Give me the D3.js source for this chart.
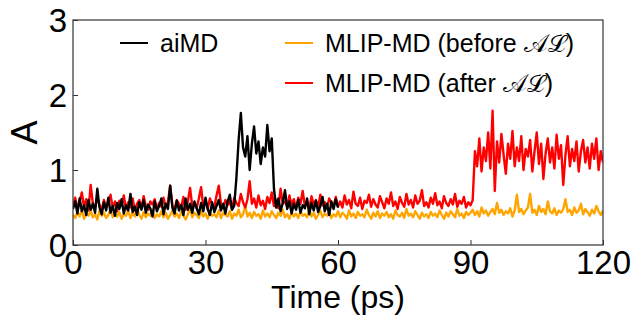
<!DOCTYPE html>
<html>
<head>
<meta charset="utf-8">
<script src="https://cdn.jsdelivr.net/npm/d3@7"></script>
<style>
  html, body { margin: 0; padding: 0; background: #fff; }
  svg { display: block; font-family: "Liberation Sans", Arial, Helvetica, sans-serif; }
</style>
</head>
<body>
<svg id="chart" width="634" height="320"></svg>
<script>
// ---- data ----
const timeStep = 0.5; // ps between samples
const xTicks = [0, 30, 60, 90, 120];
const yTicks = [0, 1, 2, 3];
const seriesNames = ["aiMD", "MLIP-MD (before 𝒜ℒ)", "MLIP-MD (after 𝒜ℒ)"];
const seriesColors = ["#000000", "#FFA500", "#FF0000"];

// aiMD, 0–60 ps
const aiMD = [
  0.48, 0.58, 0.42, 0.62, 0.45, 0.53, 0.40, 0.60, 0.47, 0.55, 0.43, 0.75, 0.50, 0.41, 0.57, 0.46, 0.63, 0.43, 0.52, 0.39, 0.56,
  0.48, 0.61, 0.42, 0.53, 0.46, 0.68, 0.44, 0.51, 0.40, 0.57, 0.47, 0.60, 0.43, 0.54, 0.49, 0.38, 0.58, 0.45, 0.52, 0.62,
  0.41, 0.55, 0.48, 0.79, 0.50, 0.42, 0.59, 0.46, 0.53, 0.40, 0.62, 0.47, 0.55, 0.43, 0.58, 0.49, 0.41, 0.56, 0.45, 0.63,
  0.48, 0.40, 0.57, 0.44, 0.52, 0.60, 0.46, 0.55, 0.42, 0.58, 0.67, 0.47, 0.52, 0.90, 1.40, 1.76, 1.30, 1.18, 1.45, 1.00,
  1.35, 1.58, 1.22, 1.38, 1.08, 1.30, 1.18, 1.60, 1.25, 1.42, 0.75, 0.50, 0.62, 0.45, 0.56, 0.73, 0.48, 0.58, 0.42, 0.55,
  0.47, 0.60, 0.43, 0.53, 0.49, 0.62, 0.41, 0.56, 0.46, 0.59, 0.44, 0.52, 0.64, 0.45, 0.55, 0.40, 0.58, 0.48, 0.61, 0.50
];

// MLIP-MD before active learning, 0–120 ps
const mlipBefore = [
  0.40, 0.36, 0.44, 0.38, 0.47, 0.35, 0.42, 0.39, 0.45, 0.37, 0.41, 0.34, 0.46, 0.39, 0.43, 0.36, 0.40, 0.48, 0.37, 0.42, 0.38,
  0.44, 0.35, 0.41, 0.39, 0.46, 0.36, 0.43, 0.38, 0.50, 0.40, 0.35, 0.44, 0.37, 0.42, 0.39, 0.47, 0.36, 0.41, 0.38, 0.45,
  0.37, 0.43, 0.35, 0.40, 0.46, 0.38, 0.42, 0.36, 0.44, 0.39, 0.34, 0.41, 0.48, 0.37, 0.43, 0.40, 0.36, 0.45, 0.38, 0.42,
  0.35, 0.44, 0.39, 0.41, 0.37, 0.46, 0.36, 0.43, 0.40, 0.38, 0.45, 0.35, 0.42, 0.39, 0.47, 0.37, 0.41, 0.52, 0.38, 0.43,
  0.36, 0.44, 0.39, 0.41, 0.35, 0.46, 0.38, 0.42, 0.37, 0.45, 0.40, 0.36, 0.43, 0.39, 0.47, 0.37, 0.41, 0.35, 0.44, 0.38,
  0.42, 0.36, 0.45, 0.39, 0.41, 0.37, 0.48, 0.38, 0.43, 0.35, 0.40, 0.46, 0.37, 0.42, 0.39, 0.44, 0.36, 0.41, 0.38, 0.45,
  0.37, 0.43, 0.40, 0.35, 0.46, 0.38, 0.42, 0.36, 0.44, 0.39, 0.41, 0.37, 0.47, 0.40, 0.35, 0.43, 0.38, 0.45, 0.36, 0.42,
  0.39, 0.44, 0.37, 0.41, 0.35, 0.46, 0.40, 0.38, 0.43, 0.36, 0.48, 0.39, 0.42, 0.37, 0.45, 0.40, 0.35, 0.43, 0.38, 0.41,
  0.36, 0.44, 0.39, 0.42, 0.37, 0.46, 0.40, 0.35, 0.43, 0.38, 0.45, 0.41, 0.37, 0.48, 0.39, 0.42, 0.36, 0.44, 0.40, 0.43,
  0.47, 0.40, 0.45, 0.38, 0.50, 0.42, 0.46, 0.39, 0.44, 0.48, 0.41, 0.56, 0.43, 0.47, 0.40, 0.45, 0.42, 0.49, 0.38, 0.46,
  0.67, 0.44, 0.48, 0.41, 0.46, 0.50, 0.68, 0.43, 0.47, 0.40, 0.52, 0.44, 0.48, 0.41, 0.58, 0.45, 0.42, 0.49, 0.40, 0.46,
  0.43, 0.48, 0.61, 0.44, 0.47, 0.40, 0.50, 0.43, 0.46, 0.55, 0.41, 0.48, 0.44, 0.39, 0.47, 0.42, 0.52, 0.45, 0.40, 0.46
];

// MLIP-MD after active learning, 0–120 ps
const mlipAfter = [
  0.52, 0.63, 0.48, 0.58, 0.70, 0.50, 0.61, 0.46, 0.80, 0.55, 0.49, 0.64, 0.53, 0.47, 0.60, 0.51, 0.56, 0.67, 0.49, 0.58, 0.45,
  0.59, 0.52, 0.66, 0.48, 0.57, 0.50, 0.62, 0.46, 0.55, 0.60, 0.49, 0.65, 0.52, 0.47, 0.58, 0.54, 0.61, 0.48, 0.56, 0.51,
  0.63, 0.50, 0.57, 0.79, 0.53, 0.48, 0.60, 0.55, 0.50, 0.64, 0.47, 0.58, 0.76, 0.52, 0.56, 0.49, 0.62, 0.77, 0.51, 0.57,
  0.48, 0.62, 0.54, 0.50, 0.66, 0.79, 0.55, 0.49, 0.60, 0.53, 0.58, 0.47, 0.63, 0.56, 0.52, 0.68, 0.57, 0.50, 0.61, 0.85,
  0.55, 0.62, 0.50, 0.66, 0.53, 0.59, 0.48, 0.64, 0.56, 0.70, 0.52, 0.60, 0.49, 0.75, 0.55, 0.58, 0.51, 0.66, 0.53, 0.61,
  0.49, 0.63, 0.55, 0.72, 0.52, 0.58, 0.48, 0.65, 0.54, 0.60, 0.50, 0.67, 0.53, 0.57, 0.49, 0.62, 0.56, 0.52, 0.64, 0.51,
  0.58, 0.50, 0.66, 0.54, 0.60, 0.49, 0.71, 0.55, 0.52, 0.63, 0.48, 0.59, 0.56, 0.67, 0.51, 0.61, 0.54, 0.50, 0.65, 0.57,
  0.49, 0.62, 0.55, 0.70, 0.52, 0.58, 0.48, 0.64, 0.56, 0.51, 0.68, 0.54, 0.60, 0.50, 0.66, 0.55, 0.59, 0.73, 0.52, 0.57,
  0.50, 0.63, 0.55, 0.69, 0.53, 0.58, 0.49, 0.65, 0.56, 0.52, 0.61, 0.54, 0.68, 0.51, 0.59, 0.55, 0.64, 0.50, 0.57, 0.53,
  0.60, 1.25, 1.05, 1.42, 0.98, 1.30, 1.12, 1.50, 1.02, 1.79, 0.72, 1.38, 1.10, 1.48, 1.20, 0.95, 1.35, 1.15, 1.52, 1.05,
  1.30, 1.12, 1.45, 1.00, 1.28, 1.18, 1.40, 0.98, 1.25, 1.50, 1.08, 1.35, 0.88, 1.22, 1.42, 1.10, 1.30, 1.02, 1.47, 1.15,
  1.33, 0.80, 1.20, 1.45, 1.05, 1.28, 1.12, 1.38, 0.98, 1.25, 1.40, 1.10, 1.30, 1.02, 1.35, 1.15, 1.42, 1.00, 1.25, 1.10
];

// ---- layout ----
const margin = { left: 73, right: 31, top: 20, bottom: 75 };
const W = 634, H = 320;
const iw = W - margin.left - margin.right;
const ih = H - margin.top - margin.bottom;

const svg = d3.select("#chart");
const x = d3.scaleLinear().domain([0, 120]).range([margin.left, margin.left + iw]);
const y = d3.scaleLinear().domain([0, 3]).range([margin.top + ih, margin.top]);

svg.append("defs").append("clipPath").attr("id", "plotClip")
  .append("rect").attr("x", margin.left).attr("y", margin.top).attr("width", iw).attr("height", ih);

const line = d3.line().x((d, i) => x(i * timeStep)).y(d => y(d));

const plotOrder = [
  { data: mlipBefore, color: seriesColors[1] },
  { data: mlipAfter, color: seriesColors[2] },
  { data: aiMD, color: seriesColors[0] }
];
const g = svg.append("g").attr("clip-path", "url(#plotClip)");
plotOrder.forEach(s => {
  g.append("path").datum(s.data)
    .attr("d", line)
    .attr("fill", "none")
    .attr("stroke", s.color)
    .attr("stroke-width", 2.4)
    .attr("stroke-linejoin", "round");
});

// frame
svg.append("rect")
  .attr("x", margin.left).attr("y", margin.top).attr("width", iw).attr("height", ih)
  .attr("fill", "none").attr("stroke", "#333").attr("stroke-width", 1.2);

// axes with inward ticks
const xAxis = d3.axisBottom(x).tickValues(xTicks).tickFormat(d3.format("d"))
  .tickSizeInner(-5).tickSizeOuter(0).tickPadding(6);
const yAxis = d3.axisLeft(y).tickValues(yTicks).tickFormat(d3.format("d"))
  .tickSizeInner(-5).tickSizeOuter(0).tickPadding(6);

const gx = svg.append("g").attr("transform", `translate(0,${margin.top + ih})`).call(xAxis);
const gy = svg.append("g").attr("transform", `translate(${margin.left},0)`).call(yAxis);
[gx, gy].forEach(a => {
  a.select(".domain").remove();
  a.selectAll(".tick line").attr("stroke", "#333").attr("stroke-width", 1);
  a.selectAll(".tick text").attr("fill", "#000")
    .style("font-family", '"Liberation Sans", Arial, sans-serif').style("font-size", "33px");
});
gx.selectAll(".tick text").attr("dy", "0.71em");
gy.selectAll(".tick text").attr("dy", "0.36em");

// axis labels
svg.append("text")
  .attr("x", margin.left + iw / 2).attr("y", 308)
  .attr("text-anchor", "middle").style("font-size", "32px").text("Time (ps)");
svg.append("text")
  .attr("transform", `translate(37,${margin.top + ih / 2}) rotate(-90)`)
  .attr("text-anchor", "middle").style("font-size", "36px").text("A");

// legend
const legendItems = [
  { name: seriesNames[0], color: seriesColors[0], lx: 120, ly: 43 },
  { name: seriesNames[1], color: seriesColors[1], lx: 285, ly: 43 },
  { name: seriesNames[2], color: seriesColors[2], lx: 285, ly: 83 }
];
const lg = svg.append("g");
legendItems.forEach(it => {
  lg.append("line").attr("x1", it.lx).attr("x2", it.lx + 28)
    .attr("y1", it.ly).attr("y2", it.ly)
    .attr("stroke", it.color).attr("stroke-width", 2);
  lg.append("text").attr("x", it.lx + 40).attr("y", it.ly + 9)
    .style("font-size", "25px").attr("fill", "#000").text(it.name);
});
</script>
</body>
</html>
